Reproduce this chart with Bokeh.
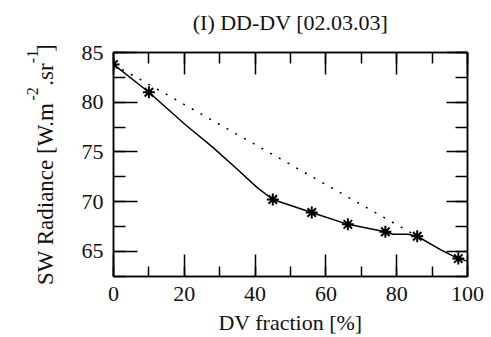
from bokeh.plotting import figure
from bokeh.models import Range1d, LinearAxis, SingleIntervalTicker, Title
from bokeh.embed import file_html
from bokeh.resources import INLINE

# ---- data ----
dv_fraction = [0, 10, 45, 56, 66.2, 76.8, 85.8, 97.4]
sw_radiance = [83.8, 81.0, 70.2, 68.9, 67.7, 66.95, 66.5, 64.25]

# solid curve drawn through the points (vertices)
curve_x = [0, 10, 20.4, 27.9, 34.5, 40.6, 45, 56, 66.2, 76.8, 78.9, 83.2, 85.8, 92.6, 97.4, 100]
curve_y = [83.8, 81.0, 77.7, 75.5, 73.4, 71.4, 70.2, 68.9, 67.7, 66.95, 66.7, 66.7, 66.5, 65.1, 64.25, 64.0]

# dotted linear-mixing reference line
mix_x = [0, 85.8]
mix_y = [83.8, 66.5]

title_text = "(I) DD-DV [02.03.03]"
xlabel_text = "DV fraction [%]"
NB = "\u00a0"
ylabel_main = "SW Radiance [W.m" + NB * 3 + ".sr" + NB * 2 + "]"
ylabel_sup = "-2" + NB * 6 + "-1"

FONT = "'Liberation Serif', 'Times New Roman', serif"
FS = "22px"

p = figure(width=491, height=337, output_backend="svg", toolbar_location=None,
           title_location=None,
           x_range=Range1d(0, 100), y_range=Range1d(62.45, 85.0),
           min_border_left=113, min_border_right=24, min_border_top=52, min_border_bottom=61)
p.xgrid.visible = False
p.ygrid.visible = False
p.outline_line_color = "black"
p.outline_line_width = 1.5
p.background_fill_color = "white"
p.border_fill_color = "white"

def style(ax, ticker, major_len, minor_len, show_labels, standoff):
    ax.ticker = ticker
    ax.axis_line_color = "black"
    ax.axis_line_width = 1.5
    ax.major_tick_in = major_len
    ax.major_tick_out = 0
    ax.minor_tick_in = minor_len
    ax.minor_tick_out = 0
    ax.major_tick_line_width = 1.5
    ax.minor_tick_line_width = 1.5
    ax.major_tick_line_color = "black"
    ax.minor_tick_line_color = "black"
    ax.major_label_text_font = FONT
    ax.major_label_text_font_size = FS if show_labels else "0px"
    ax.major_label_text_color = "#111111" if show_labels else None
    ax.major_label_standoff = standoff

style(p.xaxis[0], SingleIntervalTicker(interval=20, num_minor_ticks=2), 22, 10, True, 10)
style(p.yaxis[0], SingleIntervalTicker(interval=5, num_minor_ticks=2), 24, 12, True, 10)

def label_style(ax, text, size, standoff):
    ax.axis_label = text
    ax.axis_label_text_font = FONT
    ax.axis_label_text_font_size = size
    ax.axis_label_text_font_style = "normal"
    ax.axis_label_text_color = "#111111"
    ax.axis_label_standoff = standoff

label_style(p.xaxis[0], xlabel_text, FS, 6)
label_style(p.yaxis[0], ylabel_main, "23px", 21)

top_ax = LinearAxis()
right_ax = LinearAxis()
style(top_ax, SingleIntervalTicker(interval=20, num_minor_ticks=2), 22, 11, False, 0)
style(right_ax, SingleIntervalTicker(interval=5, num_minor_ticks=2), 21, 12, False, 0)
label_style(top_ax, title_text, FS, 18)
p.add_layout(top_ax, "above")
p.add_layout(right_ax, "right")

# superscripts of the y label
p.add_layout(Title(text=ylabel_sup, align="left", offset=176, standoff=-22,
                   text_font=FONT, text_font_size="16px", text_font_style="normal",
                   text_color="#111111"), "left")

# lines and markers
p.line(mix_x, mix_y, line_color="black", line_width=1.5, line_dash="2 8")
p.line(curve_x, curve_y, line_color="black", line_width=1.5)
p.scatter(dv_fraction, sw_radiance, marker="asterisk", size=12, line_color="black", line_width=2)

open("out.html", "w").write(file_html(p, INLINE))
